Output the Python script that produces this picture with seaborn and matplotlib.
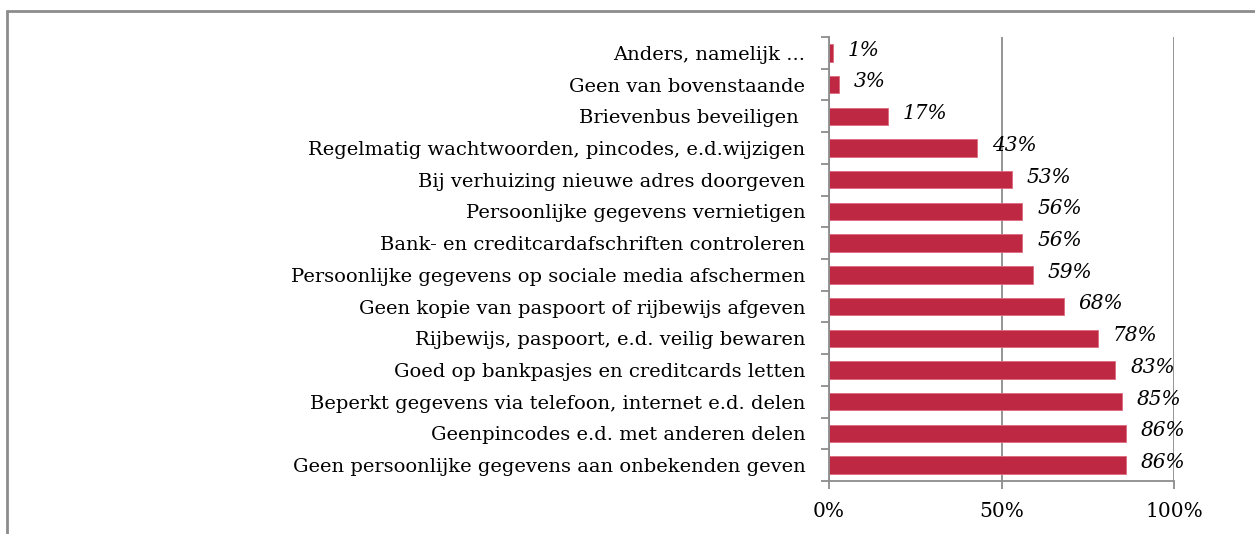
import matplotlib
matplotlib.use("Agg")
import matplotlib.pyplot as plt
import seaborn as sns
import pandas as pd
from matplotlib.lines import Line2D

# categories, top to bottom
maatregelen = [
    "Anders, namelijk ...",
    "Geen van bovenstaande",
    "Brievenbus beveiligen ",
    "Regelmatig wachtwoorden, pincodes, e.d.wijzigen",
    "Bij verhuizing nieuwe adres doorgeven",
    "Persoonlijke gegevens vernietigen",
    "Bank- en creditcardafschriften controleren",
    "Persoonlijke gegevens op sociale media afschermen",
    "Geen kopie van paspoort of rijbewijs afgeven",
    "Rijbewijs, paspoort, e.d. veilig bewaren",
    "Goed op bankpasjes en creditcards letten",
    "Beperkt gegevens via telefoon, internet e.d. delen",
    "Geenpincodes e.d. met anderen delen",
    "Geen persoonlijke gegevens aan onbekenden geven",
]
percentages = [1, 3, 17, 43, 53, 56, 56, 59, 68, 78, 83, 85, 86, 86]
xticks = [0, 50, 100]
xticklabels = ["0%", "50%", "100%"]

df = pd.DataFrame({"maatregel": maatregelen, "pct": percentages})

sns.set_style("white")
plt.rcParams["font.family"] = ["DejaVu Serif"]
plt.rcParams["text.color"] = "black"
plt.rcParams["xtick.color"] = "black"
plt.rcParams["ytick.color"] = "black"

grey = "#8c8c8c"
fig = plt.figure(figsize=(12.55, 5.34), dpi=100)
ax = fig.add_axes([0.6606, 0.0993, 0.2749, 0.8315])

sns.barplot(data=df, y="maatregel", x="pct", orient="h", color="#be2842",
            saturation=1, width=0.55, edgecolor="#dd6a7e", linewidth=0.6, ax=ax)

ax.set_xlim(0, 100)
ax.set_ylim(len(maatregelen) - 0.5, -0.5)
ax.set_xticks(xticks)
ax.set_xticklabels(xticklabels, fontsize=14.5)
ax.xaxis.grid(True, color=grey, linewidth=1.3)
ax.set_axisbelow(True)
ax.tick_params(axis="x", bottom=True, length=6, width=1.3, color=grey,
               labelcolor="black", pad=9)

ax.set_yticks(range(len(maatregelen)))
ax.set_yticklabels(maatregelen, fontsize=14)
ax.tick_params(axis="y", which="major", left=False, length=0, pad=17,
               labelcolor="black")
ax.set_yticks([i - 0.5 for i in range(len(maatregelen) + 1)], minor=True)
ax.tick_params(axis="y", which="minor", left=True, length=6, width=1.3, color=grey)

ax.set_xlabel("")
ax.set_ylabel("")
for s in ["top", "right"]:
    ax.spines[s].set_visible(False)
for s in ["left", "bottom"]:
    ax.spines[s].set_color(grey)
    ax.spines[s].set_linewidth(1.3)

for i, v in enumerate(percentages):
    ax.text(v + 4.3, i - 0.08, f"{v}%", va="center", ha="left",
            fontsize=14.5, style="italic", color="black")

# outer frame (only top and left visible)
fig.add_artist(Line2D([7 / 1255, 7 / 1255], [0, 1 - 11 / 534], color=grey, linewidth=2))
fig.add_artist(Line2D([7 / 1255, 1], [1 - 11 / 534, 1 - 11 / 534], color=grey, linewidth=2))

fig.savefig("out.png", dpi=100)
